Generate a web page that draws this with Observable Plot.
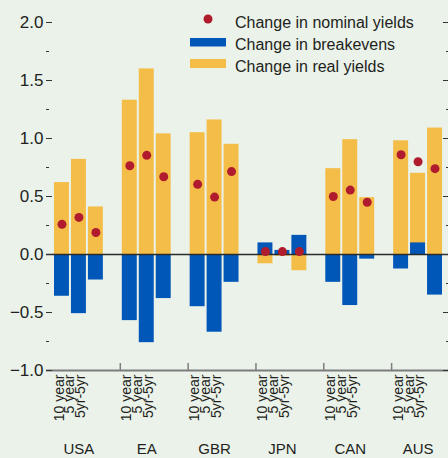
<!DOCTYPE html>
<html><head><meta charset="utf-8">
<script src="https://cdn.jsdelivr.net/npm/d3@7"></script>
<script src="https://cdn.jsdelivr.net/npm/@observablehq/plot@0.6"></script>
<style>
body{margin:0;background:#eaf2ea;}
</style></head><body><div id="chart"></div>
<script>
const countries = ["USA","EA","GBR","JPN","CAN","AUS"];
const maturities = ["10 year","5 year","5yr-5yr"];
const realYields = [[0.62,0.82,0.41],[1.33,1.60,1.04],[1.05,1.16,0.95],[-0.08,-0.015,-0.14],[0.74,0.99,0.49],[0.98,0.70,1.09]];
const breakevens = [[-0.36,-0.51,-0.22],[-0.57,-0.76,-0.38],[-0.45,-0.67,-0.24],[0.10,0.035,0.165],[-0.24,-0.44,-0.04],[-0.125,0.10,-0.35]];
const nominalYields = [[0.26,0.32,0.19],[0.765,0.855,0.67],[0.605,0.495,0.715],[0.025,0.025,0.025],[0.50,0.555,0.45],[0.86,0.80,0.74]];
const yMajor = [-1,-0.5,0,0.5,1,1.5,2];
const yMinor = [-0.75,-0.25,0.25,0.75,1.25,1.75];
const seriesNames = ["Change in nominal yields","Change in breakevens","Change in real yields"];
const colors = {nominal:"#b01c2e", breakeven:"#0057b8", real:"#f4bd48"};

const FONT = '"Liberation Sans",Arial,sans-serif';
const slots = [];
countries.forEach((c,i)=>{ maturities.forEach(m=>slots.push(c+"|"+m)); if(i<countries.length-1) slots.push("gap"+i); });
const data = countries.flatMap((c,i)=>maturities.map((m,j)=>({key:c+"|"+m, country:c, maturity:m, real:realYields[i][j], be:breakevens[i][j], nom:nominalYields[i][j]})));

const plot = Plot.plot({
  width:448, height:458,
  marginLeft:52, marginRight:6, marginTop:22, marginBottom:88,
  style:{background:"#eaf2ea", fontFamily:FONT, color:"#231f20"},
  x:{domain:slots, padding:0, round:false, axis:null},
  y:{domain:[-1,2]},
  marks:[
    Plot.barY(data,{x:"key", y:"real", fill:colors.real, insetLeft:2, insetRight:0}),
    Plot.barY(data,{x:"key", y:"be", fill:colors.breakeven, insetLeft:2, insetRight:0}),
    Plot.ruleY([0],{stroke:"#2b2b2b", strokeWidth:1.6, insetLeft:-6, insetRight:-6}),
    Plot.ruleY([-1],{stroke:"#7d7d7d", strokeWidth:2, insetLeft:-6, insetRight:-6}),
    Plot.ruleX(countries.slice(1),{x:c=>c+"|10 year", dx:-8.5, y1:-1, y2:-0.94, stroke:"#7d7d7d", strokeWidth:1.5}),
    Plot.dot(data,{x:"key", y:"nom", r:4.5, fill:colors.nominal, dx:1}),
    Plot.axisY(yMinor,{anchor:"left", tickSize:3, dx:-3, text:null, stroke:"#333"}),
    Plot.axisY(yMajor,{anchor:"left", tickSize:6, tickPadding:3, tickFormat:d3.format(".1f"), fontSize:17, stroke:"#333", fill:"#231f20"}),
    Plot.axisY(yMinor,{anchor:"right", tickSize:3, dx:3, text:null, stroke:"#333"}),
    Plot.axisY(yMajor,{anchor:"right", tickSize:6, text:null, stroke:"#333"}),
    Plot.text(countries,{x:c=>c+"|5 year", y:()=>-1, text:()=>maturities.join("\n"), rotate:-90, textAnchor:"end", lineAnchor:"middle", lineHeight:0.78, dx:-7, dy:4, fontSize:14, fill:"#231f20", ariaLabel:"xlab"}),
    Plot.text(countries,{x:c=>c+"|5 year", y:()=>-1, text:d=>d, lineAnchor:"top", dy:73, dx:1, fontSize:15, fill:"#231f20"})
  ]
});
document.getElementById("chart").appendChild(plot);

const svg = d3.select(plot);
// slightly wider spacing for rotated maturity labels
svg.selectAll('g[aria-label="xlab"] text, g[aria-label="xlab"] tspan').style("letter-spacing","1px");

// legend inside the plot area
const lg = svg.append("g").attr("font-family",FONT).attr("font-size",16).attr("fill","#231f20").attr("text-anchor","start");
lg.append("circle").attr("cx",208).attr("cy",19).attr("r",4.5).attr("fill",colors.nominal);
lg.append("rect").attr("x",190).attr("y",38).attr("width",36).attr("height",8.5).attr("fill",colors.breakeven);
lg.append("rect").attr("x",190).attr("y",59).attr("width",36).attr("height",9).attr("fill",colors.real);
seriesNames.forEach((s,i)=>lg.append("text").attr("x",235).attr("y",28+22*i).text(s));
</script></body></html>
